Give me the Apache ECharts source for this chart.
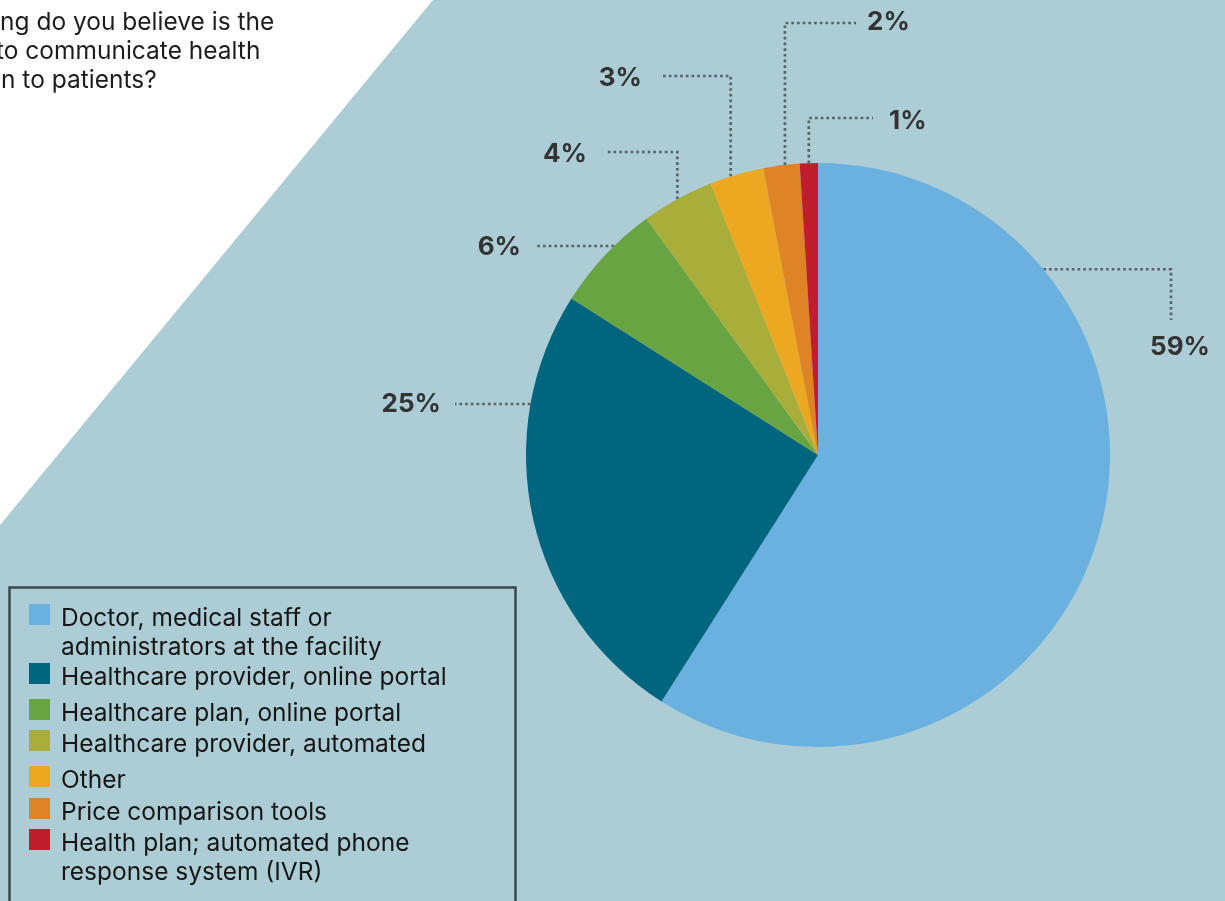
<!DOCTYPE html>
<html>
<head>
<meta charset="utf-8">
<script src="https://cdn.jsdelivr.net/npm/echarts@6/dist/echarts.min.js"></script>
<style>
  html, body { margin: 0; padding: 0; background: #accdd5; }
  #chart { width: 1225px; height: 901px; }
</style>
</head>
<body>
<div id="chart"></div>
<script>
// Survey answers: share of respondents (%)
const categories = [
  'Doctor, medical staff or\nadministrators at the facility',
  'Healthcare provider, online portal',
  'Healthcare plan, online portal',
  'Healthcare provider, automated',
  'Other',
  'Price comparison tools',
  'Health plan; automated phone\nresponse system (IVR)'
];
const shares = [59, 25, 6, 4, 3, 2, 1];
const questionLines = ['ng do you believe is the', 'to communicate health', 'n to patients?'];

const palette = ['#6ab1e0', '#00657e', '#69a443', '#a9ad3a', '#eca820', '#df8327', '#c01e2f'];
const FONT = 'Inter';

// pie geometry (pixels)
const CX = 818, CY = 455, R = 292;

// point on the rim, angle clockwise from 12 o'clock
function edgeAt(deg) {
  const t = deg * Math.PI / 180;
  return [CX + R * Math.sin(t), CY - R * Math.cos(t)];
}
// point on the left half of the rim at a given height
function edgeLeftAtY(y) {
  return [CX - Math.sqrt(R * R - (y - CY) * (y - CY)), y];
}

const total = shares.reduce((a, b) => a + b, 0);
let acc = 0;
const midAngles = shares.map(v => { const m = (acc + v / 2) / total * 360; acc += v; return m; });

// elbow leader lines: optional anchor override, then axis-aligned steps, then label spot
const leaderLayout = [
  { anchorAngle: 50.5, path: [['x', 1171], ['y', 320]], label: [1180, 347, 'center'] },
  { anchorY: 404, path: [['x', 455]], label: [441, 404, 'right'] },
  { anchorY: 246, path: [['x', 537]], label: [521, 247, 'right'] },
  { path: [['y', 152], ['x', 605]], label: [587, 154, 'right'] },
  { anchorAngle: 342.6, path: [['y', 76], ['x', 660]], label: [642, 78, 'right'] },
  { anchorAngle: 353.5, path: [['y', 23], ['x', 856]], label: [867, 22, 'left'] },
  { path: [['y', 118], ['x', 873]], label: [889, 121, 'left'] }
];

// legend rows (top of each swatch)
const legendRowTop = [604, 663, 699, 730, 766, 798, 829];

const chart = echarts.init(document.getElementById('chart'), null, { renderer: 'canvas' });

const graphics = [
  {
    type: 'polygon', z: 0, silent: true,
    shape: { points: [[0, 0], [433, 0], [0, 525]] },
    style: { fill: '#ffffff' }
  }
];
questionLines.forEach((line, i) => {
  graphics.push({
    type: 'text', z: 1, silent: true,
    x: [0, -4, 1][i], y: 8 + i * 29,
    style: { text: line, font: '24.5px ' + FONT, fill: '#1d1d1f', textAlign: 'left', textVerticalAlign: 'top', lineHeight: 29 }
  });
});
graphics.push({
  type: 'rect', z: 1, silent: true,
  shape: { x: 9.5, y: 587.5, width: 506, height: 400 },
  style: { fill: 'none', stroke: '#3b474c', lineWidth: 2.5 }
});
categories.forEach((name, i) => {
  graphics.push({
    type: 'rect', z: 1, silent: true,
    shape: { x: 29, y: legendRowTop[i], width: 21, height: 21 },
    style: { fill: palette[i] }
  });
  graphics.push({
    type: 'text', z: 1, silent: true,
    x: 61, y: legendRowTop[i],
    style: { text: name, font: '24.5px ' + FONT, fill: '#161616', textAlign: 'left', textVerticalAlign: 'top', lineHeight: 29 }
  });
});

const option = {
  backgroundColor: '#accdd5',
  animation: false,
  graphic: graphics,
  series: [{
    type: 'pie',
    center: [CX, CY],
    radius: R,
    startAngle: 90,
    clockwise: true,
    avoidLabelOverlap: false,
    emphasis: { disabled: true },
    data: categories.map((name, i) => ({ name: name, value: shares[i], itemStyle: { color: palette[i] } })),
    label: {
      show: true,
      position: 'outside',
      formatter: '{c}%',
      fontFamily: FONT,
      fontWeight: 'bold',
      fontSize: 26,
      color: '#333333'
    },
    labelLine: {
      show: true,
      length: 10,
      length2: 10,
      lineStyle: { color: '#56636b', width: 2.7, type: [2.7, 3], cap: 'butt' }
    },
    labelLayout: function (p) {
      const i = p.dataIndex;
      const spec = leaderLayout[i];
      let start;
      if (spec.anchorAngle != null) start = edgeAt(spec.anchorAngle);
      else if (spec.anchorY != null) start = edgeLeftAtY(spec.anchorY);
      else start = edgeAt(midAngles[i]);
      const pts = [start];
      let cur = start.slice();
      spec.path.forEach(function (step) {
        cur = step[0] === 'x' ? [step[1], cur[1]] : [cur[0], step[1]];
        pts.push(cur);
      });
      return {
        x: spec.label[0],
        y: spec.label[1],
        align: spec.label[2],
        verticalAlign: 'middle',
        labelLinePoints: pts
      };
    }
  }]
};

chart.setOption(option);
</script>
</body>
</html>
